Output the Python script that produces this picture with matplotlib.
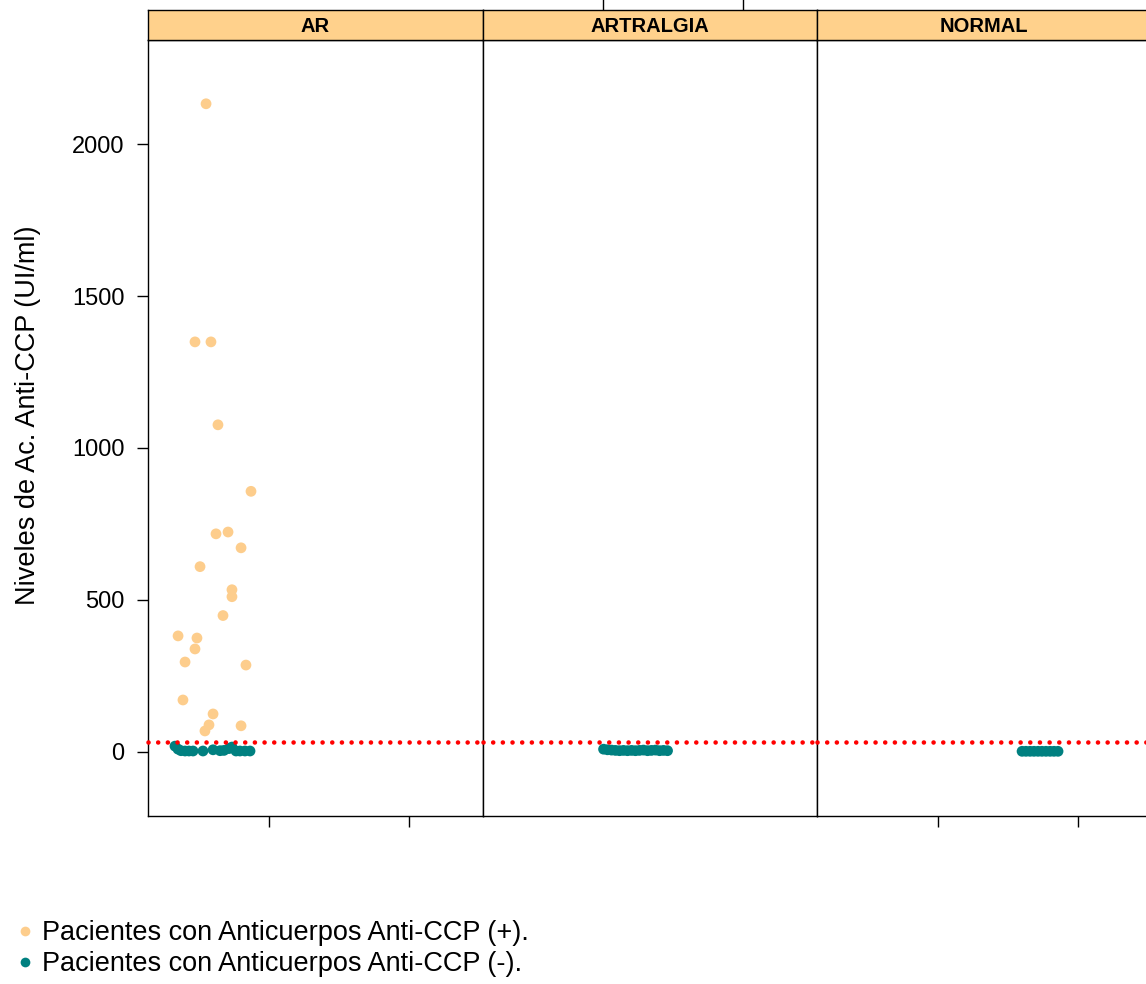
import matplotlib
matplotlib.use("Agg")
import matplotlib.pyplot as plt
from matplotlib.lines import Line2D

plt.rcParams['font.family'] = ['Liberation Sans', 'DejaVu Sans']

# groups shown as panels
grupos = ['AR', 'ARTRALGIA', 'NORMAL']

# AR, anti-CCP positive (jittered x, level UI/ml)
ar_pos_x = [0.554, 0.475, 0.589, 0.639, 0.875, 0.625, 0.711, 0.804, 0.511, 0.739, 0.739,
            0.675, 0.354, 0.489, 0.475, 0.404, 0.839, 0.389, 0.604, 0.575, 0.804, 0.546]
ar_pos_y = [2133, 1349, 1349, 1076, 857, 717, 723, 671, 609, 533, 510,
            448, 381, 374, 338, 295, 285, 170, 124, 88, 85, 68]

# AR, anti-CCP negative
ar_neg_x = [0.332, 0.354, 0.375, 0.404, 0.432, 0.461, 0.532, 0.604, 0.654, 0.682,
            0.718, 0.739, 0.768, 0.796, 0.832, 0.868]
ar_neg_y = [18, 8, 3, 2, 2, 2, 2, 6, 3, 4, 10, 15, 2, 2, 2, 2]

# ARTRALGIA, all negative
art_neg_x = [1.004, 1.032, 1.061, 1.089, 1.118, 1.146, 1.175, 1.204, 1.232, 1.261,
             1.289, 1.318, 1.346, 1.375, 1.404, 1.432, 1.461]
art_neg_y = [8, 6, 5, 4, 3, 4, 3, 4, 3, 4, 5, 3, 4, 5, 3, 4, 3]

# NORMAL, all negative
norm_neg_x = [1.604, 1.632, 1.661, 1.689, 1.718, 1.746, 1.775, 1.804, 1.832, 1.861]
norm_neg_y = [1, 1, 1, 1, 1, 1, 1, 1, 1, 1]

corte = 33  # cut-off UI/ml
yticks = [0, 500, 1000, 1500, 2000]

c_pos = '#FDCD8C'
c_neg = '#008080'
c_strip = '#FFD18C'

W, H = 1146, 984
fig = plt.figure(figsize=(W / 100, H / 100), dpi=100)

pan_left = [148, 482.5, 817]
pan_w = 334.5
pan_top, pan_bot = 40, 816
strip_top = 10

datos = {
    'AR': [(ar_pos_x, ar_pos_y, c_pos), (ar_neg_x, ar_neg_y, c_neg)],
    'ARTRALGIA': [(art_neg_x, art_neg_y, c_neg)],
    'NORMAL': [(norm_neg_x, norm_neg_y, c_neg)],
}

xlim = (1 - 120.5 / 140, 1 + (pan_w - 120.5) / 140)
ylim = (-212, 2343)

for i, g in enumerate(grupos):
    l = pan_left[i]
    ax = fig.add_axes([l / W, (H - pan_bot) / H, pan_w / W, (pan_bot - pan_top) / H])
    for xs, ys, c in datos[g]:
        ax.scatter(xs, ys, s=60, color=c, edgecolors='none', zorder=3)
    ax.axhline(corte, color='red', lw=3.3, linestyle=(0, (0.01, 2.1)),
               dash_capstyle='round', zorder=4, clip_on=False)
    ax.set_xlim(*xlim)
    ax.set_ylim(*ylim)
    for sp in ax.spines.values():
        sp.set_linewidth(1.0)
    ax.tick_params(direction='out', length=8, width=1, labelsize=17, pad=9)
    if i == 0:
        ax.set_yticks(yticks)
        ax.set_ylabel('Niveles de Ac. Anti-CCP (UI/ml)', fontsize=19.5)
        ax.yaxis.set_label_coords(-0.32, 0.517)
    else:
        ax.set_yticks([])
    if i in (0, 2):
        ax.set_xticks([1, 2])
        ax.set_xticklabels(['', ''])
    else:
        ax.set_xticks([])

    sax = fig.add_axes([l / W, (H - pan_top) / H, pan_w / W, (pan_top - strip_top) / H])
    sax.set_facecolor(c_strip)
    sax.set_xlim(*xlim)
    sax.set_yticks([])
    sax.text(0.5, 0.45, g, transform=sax.transAxes, ha='center', va='center',
             fontsize=14.5, fontweight='bold')
    if i == 1:
        sax.xaxis.tick_top()
        sax.set_xticks([1, 2])
        sax.set_xticklabels(['', ''])
        sax.tick_params(direction='out', length=8, width=1)
    else:
        sax.set_xticks([])
    for sp in sax.spines.values():
        sp.set_linewidth(1.0)

handles = [
    Line2D([], [], marker='o', linestyle='none', markersize=7, color=c_pos, markeredgewidth=0),
    Line2D([], [], marker='o', linestyle='none', markersize=7, color=c_neg, markeredgewidth=0),
]
fig.legend(handles, ['Pacientes con Anticuerpos Anti-CCP (+).',
                     'Pacientes con Anticuerpos Anti-CCP (-).'],
           loc='upper left', bbox_to_anchor=(17 / W, 1 - 920 / H), frameon=False,
           fontsize=19.5, handlelength=0.6, handletextpad=0.33, labelspacing=0.2,
           borderpad=0, borderaxespad=0)

fig.savefig('out.png', dpi=100)
